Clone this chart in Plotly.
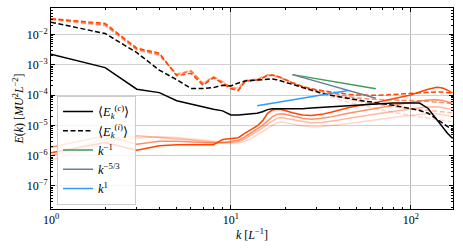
import plotly.graph_objects as go

k = [1,2,3,4,5,6,7,8,9,10,11,12,13,14,15,16,17,18,19,20,22,25,28,32,36,40,45,50,56,63,71,80,90,100,112,125,140,150,160,171]

# mean spectra
ec_mean = [2.2e-3, 8.0e-4, 1.55e-4, 1.2e-4, 6.5e-5, 5.0e-5, 4.0e-5, 3.4e-5, 3.0e-5, 2.2e-5, 2.2e-5, 2.3e-5, 2.4e-5, 2.5e-5, 2.8e-5, 3.3e-5, 3.5e-5, 3.5e-5, 3.5e-5, 3.5e-5, 3.4e-5, 3.5e-5, 3.7e-5, 3.9e-5, 4.1e-5, 4.3e-5, 4.5e-5, 4.7e-5, 4.9e-5, 5.0e-5, 5.2e-5, 5.4e-5, 5.5e-5, 5.6e-5, 5.4e-5, 3.6e-5, 1.5e-5, 8.5e-6, 5.5e-6, 3.7e-6]
ei_mean = [2.5e-2, 1.07e-2, 2.5e-3, 6.6e-4, 3.2e-4, 1.65e-4, 1.65e-4, 1.75e-4, 2.1e-4, 2.0e-4, 2.5e-4, 2.9e-4, 3.0e-4, 3.1e-4, 3.2e-4, 3.4e-4, 3.4e-4, 3.2e-4, 2.9e-4, 2.6e-4, 2.2e-4, 1.75e-4, 1.4e-4, 1.15e-4, 9.8e-5, 8.8e-5, 7.6e-5, 6.8e-5, 6.2e-5, 5.7e-5, 5.2e-5, 4.6e-5, 4.0e-5, 3.6e-5, 3.1e-5, 2.5e-5, 1.6e-5, 1.2e-5, 9.0e-6, 7.0e-6]

# snapshot spectra (incompressible, dashed), faint -> strong
ei_s1 = [3.0e-2, 1.9e-2, 3.0e-3, 2.0e-3, 5.0e-4, 6.5e-4, 2.5e-4, 4.1e-4, 2.8e-4, 1.9e-4, 1.7e-4, 3.1e-4, 3.3e-4, 3.4e-4, 4.0e-4, 4.6e-4, 4.4e-4, 4.0e-4, 3.5e-4, 3.0e-4, 2.3e-4, 1.7e-4, 1.35e-4, 1.05e-4, 8.5e-5, 7.0e-5, 5.8e-5, 4.9e-5, 4.2e-5, 3.6e-5, 3.1e-5, 2.7e-5, 2.4e-5, 2.1e-5, 1.9e-5, 1.7e-5, 1.55e-5, 1.45e-5, 1.35e-5, 1.3e-5]
ei_s2 = [3.1e-2, 2.0e-2, 3.1e-3, 2.1e-3, 4.8e-4, 6.4e-4, 2.4e-4, 4.0e-4, 2.7e-4, 1.8e-4, 1.6e-4, 3.0e-4, 3.2e-4, 3.3e-4, 3.9e-4, 4.6e-4, 4.5e-4, 4.2e-4, 3.7e-4, 3.2e-4, 2.5e-4, 1.85e-4, 1.5e-4, 1.2e-4, 1.0e-4, 8.5e-5, 7.2e-5, 6.3e-5, 5.6e-5, 5.0e-5, 4.5e-5, 4.1e-5, 3.8e-5, 3.5e-5, 3.3e-5, 3.1e-5, 2.9e-5, 2.8e-5, 2.7e-5, 2.6e-5]
ei_s3 = [3.2e-2, 2.1e-2, 3.3e-3, 2.2e-3, 4.6e-4, 6.2e-4, 2.3e-4, 3.9e-4, 2.6e-4, 1.7e-4, 1.5e-4, 2.9e-4, 3.1e-4, 3.2e-4, 3.8e-4, 4.6e-4, 4.6e-4, 4.3e-4, 3.8e-4, 3.3e-4, 2.6e-4, 1.95e-4, 1.6e-4, 1.35e-4, 1.15e-4, 1.0e-4, 8.8e-5, 8.0e-5, 7.5e-5, 7.2e-5, 7.0e-5, 6.9e-5, 6.8e-5, 6.7e-5, 6.5e-5, 6.2e-5, 5.8e-5, 5.6e-5, 5.4e-5, 5.2e-5]
ei_s4 = [3.3e-2, 2.3e-2, 3.5e-3, 2.4e-3, 4.3e-4, 5.2e-4, 2.1e-4, 3.7e-4, 2.4e-4, 1.6e-4, 1.4e-4, 2.8e-4, 3.0e-4, 3.1e-4, 3.6e-4, 4.4e-4, 4.5e-4, 4.2e-4, 3.7e-4, 3.2e-4, 2.5e-4, 1.9e-4, 1.6e-4, 1.4e-4, 1.25e-4, 1.15e-4, 1.05e-4, 1.0e-4, 9.8e-5, 9.8e-5, 1.0e-4, 1.05e-4, 1.1e-4, 1.15e-4, 1.2e-4, 1.25e-4, 1.27e-4, 1.25e-4, 1.22e-4, 1.15e-4]

# snapshot spectra (compressible, solid), faint -> strong
ec_s1 = [7.0e-7, 2.8e-6, 3.8e-6, 4.2e-6, 4.0e-6, 3.7e-6, 3.3e-6, 3.0e-6, 2.7e-6, 2.6e-6, 2.6e-6, 3.0e-6, 3.8e-6, 4.8e-6, 6.2e-6, 8.0e-6, 1.0e-5, 1.2e-5, 1.3e-5, 1.25e-5, 1.1e-5, 9.5e-6, 9.0e-6, 9.2e-6, 9.8e-6, 1.05e-5, 1.15e-5, 1.25e-5, 1.35e-5, 1.5e-5, 1.65e-5, 1.8e-5, 2.0e-5, 2.15e-5, 2.3e-5, 2.4e-5, 2.4e-5, 2.3e-5, 2.1e-5, 1.9e-5]
ec_s2 = [1.0e-6, 3.5e-6, 4.5e-6, 4.0e-6, 3.6e-6, 3.3e-6, 3.0e-6, 2.8e-6, 2.6e-6, 2.7e-6, 2.9e-6, 3.6e-6, 4.8e-6, 6.2e-6, 8.2e-6, 1.1e-5, 1.4e-5, 1.7e-5, 1.8e-5, 1.7e-5, 1.5e-5, 1.3e-5, 1.2e-5, 1.25e-5, 1.35e-5, 1.5e-5, 1.7e-5, 1.9e-5, 2.1e-5, 2.3e-5, 2.6e-5, 2.9e-5, 3.2e-5, 3.5e-5, 3.8e-5, 4.0e-5, 4.1e-5, 3.9e-5, 3.6e-5, 3.3e-5]
ec_s3 = [1.9e-6, 4.5e-6, 2.4e-6, 3.0e-6, 3.0e-6, 2.9e-6, 2.7e-6, 2.6e-6, 2.7e-6, 3.0e-6, 3.2e-6, 4.2e-6, 5.8e-6, 7.5e-6, 1.0e-5, 1.4e-5, 1.9e-5, 2.3e-5, 2.4e-5, 2.3e-5, 2.0e-5, 1.7e-5, 1.6e-5, 1.7e-5, 1.9e-5, 2.2e-5, 2.5e-5, 2.8e-5, 3.1e-5, 3.5e-5, 4.0e-5, 4.6e-5, 5.2e-5, 5.8e-5, 6.3e-5, 6.8e-5, 7.0e-5, 6.6e-5, 6.0e-5, 5.4e-5]
ec_s4 = [1.25e-6, 2.7e-6, 1.5e-6, 2.1e-6, 2.3e-6, 2.3e-6, 2.2e-6, 2.3e-6, 3.4e-6, 3.6e-6, 3.9e-6, 5.5e-6, 7.5e-6, 9.5e-6, 1.4e-5, 2.5e-5, 3.2e-5, 3.4e-5, 3.3e-5, 3.1e-5, 2.6e-5, 2.2e-5, 2.1e-5, 2.3e-5, 2.7e-5, 3.2e-5, 3.8e-5, 4.3e-5, 4.8e-5, 5.5e-5, 6.5e-5, 7.6e-5, 8.8e-5, 1.0e-4, 1.25e-4, 1.55e-4, 1.8e-4, 1.7e-4, 1.45e-4, 1.15e-4]

snap_alpha = [0.22, 0.38, 0.6, 1.0]

# reference power-law segments
ref_k_m1 = [22, 64]
ref_e_m1 = [4.7e-4, 1.62e-4]
ref_k_m53 = [22, 64]
ref_e_m53 = [4.7e-4, 7.8e-5]
ref_k_p1 = [14, 45]
ref_e_p1 = [4.4e-5, 1.42e-4]

legend_labels = ["⟨<i>E</i><sub><i>k</i></sub><sup>(<i>c</i>)</sup>⟩",
                 "⟨<i>E</i><sub><i>k</i></sub><sup>(<i>i</i>)</sup>⟩",
                 "<i>k</i><sup>−1</sup>", "<i>k</i><sup>−5/3</sup>", "<i>k</i><sup>1</sup>"]

x_tick_vals = [1, 10, 100]
x_tick_text = ["10<sup>0</sup>", "10<sup>1</sup>", "10<sup>2</sup>"]
y_tick_vals = [1e-7, 1e-6, 1e-5, 1e-4, 1e-3, 1e-2]
y_tick_text = ["10<sup>−7</sup>", "10<sup>−6</sup>", "10<sup>−5</sup>", "10<sup>−4</sup>", "10<sup>−3</sup>", "10<sup>−2</sup>"]

x_minor = [m * d for d in (1, 10, 100) for m in range(2, 10) if m * d < 175]
y_minor = [m * d for d in (1e-8, 1e-7, 1e-6, 1e-5, 1e-4, 1e-3, 1e-2) for m in range(2, 10)]

FONT = "Liberation Serif"
DASH = "5px,2.5px"

fig = go.Figure()
for a, es, ec in zip(snap_alpha, [ei_s1, ei_s2, ei_s3, ei_s4], [ec_s1, ec_s2, ec_s3, ec_s4]):
    col = f"rgba(255,69,0,{a})"
    fig.add_trace(go.Scatter(x=k, y=es, mode="lines", line=dict(color=col, width=1.5, dash=DASH), showlegend=False, hoverinfo="skip"))
    fig.add_trace(go.Scatter(x=k, y=ec, mode="lines", line=dict(color=col, width=1.5), showlegend=False, hoverinfo="skip"))

fig.add_trace(go.Scatter(x=k, y=ec_mean, mode="lines", name=legend_labels[0], line=dict(color="black", width=1.5)))
fig.add_trace(go.Scatter(x=k, y=ei_mean, mode="lines", name=legend_labels[1], line=dict(color="black", width=1.5, dash=DASH)))
fig.add_trace(go.Scatter(x=ref_k_m1, y=ref_e_m1, mode="lines", name=legend_labels[2], line=dict(color="#3d9a5b", width=1.5)))
fig.add_trace(go.Scatter(x=ref_k_m53, y=ref_e_m53, mode="lines", name=legend_labels[3], line=dict(color="#6f7f8f", width=1.5)))
fig.add_trace(go.Scatter(x=ref_k_p1, y=ref_e_p1, mode="lines", name=legend_labels[4], line=dict(color="#3399ff", width=1.5)))

axis_common = dict(
    type="log", showline=True, linecolor="black", linewidth=1, mirror="ticks",
    ticks="inside", ticklen=4, tickcolor="black", automargin=False,
    zeroline=False, tickfont=dict(family=FONT, size=12, color="black"), tickmode="array",
)
fig.update_xaxes(**axis_common, range=[0, 2.235], tickvals=x_tick_vals, ticktext=x_tick_text,
                 gridcolor="#b8b8b8", gridwidth=1,
                 minor=dict(ticks="inside", ticklen=2, tickcolor="black", showgrid=False, tickmode="array", tickvals=x_minor),
                 title=dict(text="<i>k</i> [<i>L</i><sup>−1</sup>]", font=dict(family=FONT, size=12, color="black"), standoff=0))
fig.update_yaxes(**axis_common, range=[-7.76, -1.13], tickvals=y_tick_vals, ticktext=y_tick_text,
                 gridcolor="#d0d0d0", gridwidth=1.2,
                 minor=dict(ticks="inside", ticklen=2, tickcolor="black", showgrid=False, tickmode="array", tickvals=y_minor),
                 title=dict(text="<i>E</i>(<i>k</i>) [<i>MU</i><sup>2</sup><i>L</i><sup>−2</sup>]", font=dict(family=FONT, size=12, color="black"), standoff=0))

fig.update_layout(
    width=463, height=249, margin=dict(l=51, r=10, t=8, b=40),
    paper_bgcolor="white", plot_bgcolor="white",
    font=dict(family=FONT, size=12, color="black"),
    legend=dict(x=0.015, y=0.563, xanchor="left", yanchor="top", bgcolor="rgba(255,255,255,0.8)",
                bordercolor="#cccccc", borderwidth=1, font=dict(family=FONT, size=12.5), tracegroupgap=0),
)
fig.write_html("out.html", config={"displayModeBar": False},
               post_script="document.body.style.margin='0';document.body.style.padding='0';")
